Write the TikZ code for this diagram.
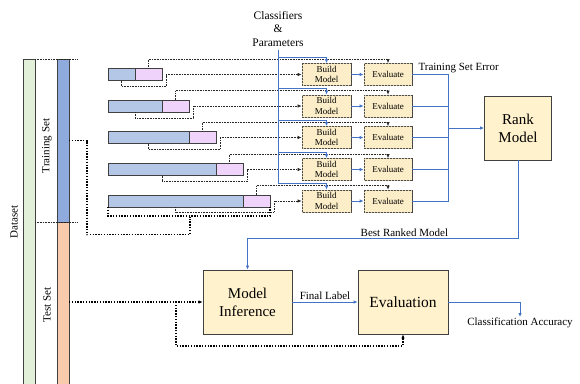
\documentclass[tikz,border=0pt]{standalone}
\usepackage{fontspec}
\setmainfont{Liberation Serif}
\usetikzlibrary{arrows.meta,patterns}
\definecolor{foldblue}{HTML}{B4C7E7}
\definecolor{foldpink}{HTML}{F0D3FA}
\definecolor{trainblue}{HTML}{8FAADC}
\definecolor{testorange}{HTML}{F8CBAD}
\definecolor{datagreen}{HTML}{E2F0D9}
\definecolor{boxyellow}{HTML}{FFF2CC}
\definecolor{hatchyellow}{HTML}{F7E6C0}
\definecolor{flowblue}{HTML}{4472C4}
\definecolor{edgegray}{HTML}{404040}
\tikzset{
  fold/.style={draw=edgegray, line width=0.8pt, inner sep=0pt, outer sep=0pt, minimum height=12pt},
  trainfold/.style={fold, fill=foldblue},
  validfold/.style={fold, fill=foldpink, minimum width=27pt},
  setbar/.style={draw=edgegray, line width=0.8pt, inner sep=0pt, outer sep=0pt, minimum width=12pt},
  smallbox/.style={draw=edgegray, line width=0.8pt, fill=boxyellow,
    postaction={pattern=north east lines, pattern color=hatchyellow},
    minimum height=22pt, inner sep=0.5pt, align=center, font=\fontsize{9}{10.5}\selectfont},
  bigbox/.style={draw=edgegray, line width=0.8pt, fill=boxyellow,
    minimum height=64pt, align=center, font=\fontsize{15}{18}\selectfont},
  blueline/.style={draw=flowblue, line width=0.9pt},
  bluearrow/.style={blueline, -{Latex[length=4pt,width=3.5pt]}},
  thindot/.style={draw=black!85, line width=0.6pt, dash pattern=on 0.7pt off 0.9pt},
  thickdot/.style={draw=black, line width=1.3pt, dash pattern=on 1.4pt off 1.4pt},
  dotarrow/.style={-{Latex[length=4pt,width=3.5pt]}},
  lbl/.style={font=\fontsize{11}{13}\selectfont, inner sep=1pt}
}
\begin{document}
\begin{tikzpicture}[x=1pt,y=-1pt]
  \useasboundingbox (0,0) rectangle (580,383);

  % dataset split
  \node[setbar, fill=datagreen, minimum height=325pt, anchor=north] (dataset) at (29,59) {};
  \node[setbar, fill=trainblue, minimum height=163pt, anchor=north] (trainset) at (63,59) {};
  \node[setbar, fill=testorange, minimum height=162pt, anchor=north] (testset) at (63,222) {};
  \node[lbl, rotate=90] (datalabel) at (14,222) {Dataset};
  \node[lbl, rotate=90] (trainlabel) at (47,146) {Training Set};
  \node[lbl, rotate=90] (testlabel) at (47,305) {Test Set};
  \coordinate (splittop) at (77,59);
  \coordinate (splitmid) at (77,222);
  \draw[thindot] (dataset.north east) -- (splittop);
  \draw[thindot] (testset.north west -| dataset.east) -- (splitmid);

  % folds
  \node[trainfold, minimum width=27pt] (t1) at (121.5,74.5) {};
  \node[validfold] (v1) at (148.5,74.5) {};
  \node[trainfold, minimum width=54pt] (t2) at (135,106) {};
  \node[validfold] (v2) at (175.5,106) {};
  \node[trainfold, minimum width=81pt] (t3) at (148.5,137.5) {};
  \node[validfold] (v3) at (202.5,137.5) {};
  \node[trainfold, minimum width=108pt] (t4) at (162,169.5) {};
  \node[validfold] (v4) at (229.5,169.5) {};
  \node[trainfold, minimum width=135pt] (t5) at (175.5,201) {};
  \node[validfold] (v5) at (256.5,201) {};

  % build and evaluate
  \node[smallbox, minimum width=49pt] (b1) at (326.5,74.5) {Build\\Model};
  \node[smallbox, minimum width=48pt] (e1) at (388,74.5) {Evaluate};
  \node[smallbox, minimum width=49pt] (b2) at (326.5,106) {Build\\Model};
  \node[smallbox, minimum width=48pt] (e2) at (388,106) {Evaluate};
  \node[smallbox, minimum width=49pt] (b3) at (326.5,137.5) {Build\\Model};
  \node[smallbox, minimum width=48pt] (e3) at (388,137.5) {Evaluate};
  \node[smallbox, minimum width=49pt] (b4) at (326.5,169.5) {Build\\Model};
  \node[smallbox, minimum width=48pt] (e4) at (388,169.5) {Evaluate};
  \node[smallbox, minimum width=49pt] (b5) at (326.5,201) {Build\\Model};
  \node[smallbox, minimum width=48pt] (e5) at (388,201) {Evaluate};

  \node[align=center, font=\fontsize{11.5}{13.5}\selectfont] (params) at (278,29) {Classifiers\\\&\\Parameters};
  \node[anchor=west, font=\fontsize{11}{13}\selectfont] (errlabel) at (415,68) {Training Set Error};

  \node[bigbox, minimum width=67pt] (rank) at (518,128) {Rank\\Model};
  \node[bigbox, minimum width=89pt] (inference) at (247.5,302) {Model\\Inference};
  \node[bigbox, minimum width=90pt, font=\fontsize{15.5}{18}\selectfont] (evaluation) at (403,302) {Evaluation};
  \node[lbl, anchor=north] (accuracy) at (520,317) {Classification Accuracy};

  % training folds into build model
  \draw[thindot, dotarrow] (t1.south) -- ++(0,6) -| ([xshift=4pt]v1.east) -- (b1.west);
  \draw[thindot, dotarrow] (t2.south) -- ++(0,6) -| ([xshift=4pt]v2.east) -- (b2.west);
  \draw[thindot, dotarrow] (t3.south) -- ++(0,6) -| ([xshift=4pt]v3.east) -- (b3.west);
  \draw[thindot, dotarrow] (t4.south) -- ++(0,6) -| ([xshift=4pt]v4.east) -- (b4.west);
  \draw[thindot, dotarrow] (t5.south) -- ++(0,5) -| ([xshift=4pt]v5.east) -- (b5.west);

  % validation folds into evaluate
  \draw[thindot, dotarrow] (v1.north) |- ([yshift=4pt]e1.north) -- (e1.north);
  \draw[thindot, dotarrow] (v2.north) |- ([yshift=4pt]e2.north) -- (e2.north);
  \draw[thindot, dotarrow] (v3.north) |- ([yshift=4pt]e3.north) -- (e3.north);
  \draw[thindot, dotarrow] (v4.north) |- ([yshift=4pt]e4.north) -- (e4.north);
  \draw[thindot, dotarrow] (v5.north) |- ([yshift=4pt]e5.north) -- (e5.north);

  % classifiers and parameters
  \draw[blueline] (params.south) -- ([yshift=6pt]b5.north -| params.south);
  \draw[bluearrow] ([yshift=6pt]b1.north -| params.south) -| (b1.north);
  \draw[bluearrow] ([yshift=6pt]b2.north -| params.south) -| (b2.north);
  \draw[bluearrow] ([yshift=6pt]b3.north -| params.south) -| (b3.north);
  \draw[bluearrow] ([yshift=6pt]b4.north -| params.south) -| (b4.north);
  \draw[bluearrow] ([yshift=6pt]b5.north -| params.south) -| (b5.north);

  \draw[bluearrow] (b1) -- (e1);
  \draw[bluearrow] (b2) -- (e2);
  \draw[bluearrow] (b3) -- (e3);
  \draw[bluearrow] (b4) -- (e4);
  \draw[bluearrow] (b5) -- (e5);

  % errors to ranking
  \coordinate (collect) at (448,128);
  \draw[blueline] (e1.east) -| (collect);
  \draw[blueline] (e2.east) -| (collect);
  \draw[blueline] (e3.east) -| (collect);
  \draw[blueline] (e4.east) -| (collect);
  \draw[blueline] (e5.east) -| (collect);
  \draw[bluearrow] (collect) -- (rank.west);

  % full training set
  \coordinate (brk) at (190,217);
  \draw[thickdot] (t5.south west) -- ++(0,9) -| (v5.south east);
  \draw[thickdot] (trainset.east) -- ++(18,0) -- ++(0,94) -| (brk);

  % test phase
  \draw[bluearrow] (rank.south) -- ++(0,78) -| node[above, pos=0.21, lbl] {Best Ranked Model} (inference.north);
  \coordinate (tbranch) at (176,302);
  \draw[thickdot, dotarrow] (testset.east |- inference.west) -- (inference.west);
  \draw[thickdot, dotarrow] (tbranch) -- ++(0,44) -| (evaluation.south);
  \draw[bluearrow] (inference) -- node[above, lbl, yshift=1pt] {Final Label} (evaluation);
  \draw[bluearrow] (evaluation.east) -| (accuracy.north);
\end{tikzpicture}
\end{document}
